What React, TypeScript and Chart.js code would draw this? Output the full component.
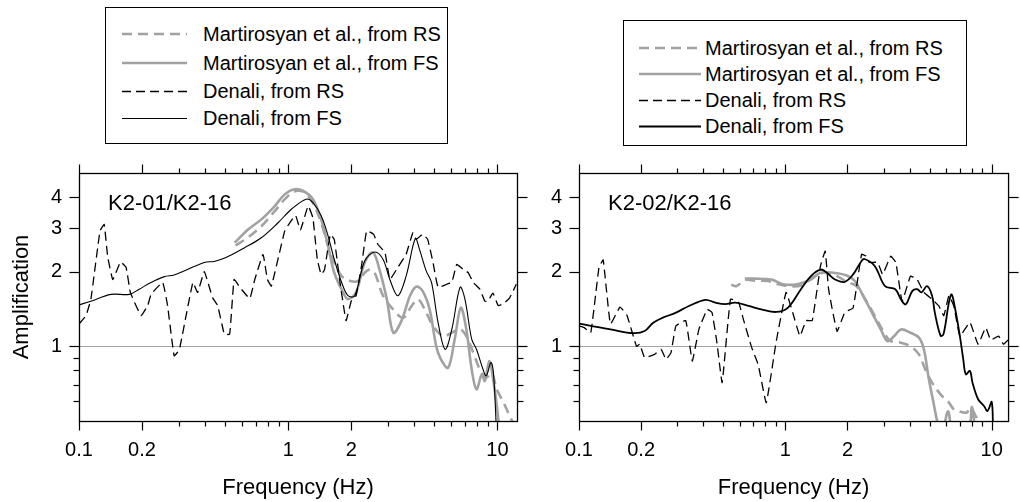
import React, { useEffect, useRef } from 'react';
import { Chart, registerables } from 'chart.js';

Chart.register(...registerables);

const FONT = "'Liberation Sans', Arial, Helvetica, sans-serif";
const GRAY = '#a2a2a2';

// ---- axis ticks / labels ----
const xTickLabels = [0.1, 0.2, 1, 2, 10];
const xMinorTicks = [0.3, 0.4, 0.5, 0.6, 0.7, 0.8, 0.9, 3, 4, 5, 6, 7, 8, 9];
const yTickLabels = [1, 2, 3, 4];
const yMinorTicks = [0.6, 0.7, 0.8, 0.9];
const xTitle = 'Frequency (Hz)';
const yTitle = 'Amplification';
const legendLabels = ['Martirosyan et al., from RS', 'Martirosyan et al., from FS', 'Denali, from RS', 'Denali, from FS'];
const panelTitles = ['K2-01/K2-16', 'K2-02/K2-16'];

// ---- K2-01/K2-16 ----
const k201MartRsFreq = [0.56, 0.643, 0.744, 0.862, 0.98, 1.09, 1.2, 1.31, 1.437, 1.55, 1.66, 1.8, 1.98, 2.16, 2.32, 2.46, 2.59, 2.84, 3.17, 3.54, 3.89, 4.17, 4.49, 4.92, 5.5, 6.05, 6.63, 7.1, 7.66, 8.24, 8.84, 9.37, 9.93, 10.7, 11.44, 12.2];
const k201MartRsAmp = [2.55, 2.75, 3.05, 3.51, 3.98, 4.23, 4.17, 3.8, 3.15, 2.54, 2.18, 1.92, 1.835, 1.835, 1.98, 2.04, 1.98, 1.6, 1.41, 1.305, 1.455, 1.547, 1.41, 1.21, 1.1, 1.135, 1.17, 1.1, 0.943, 0.808, 0.748, 0.783, 0.671, 0.593, 0.524, 0.47];

const k201MartFsFreq = [0.555, 0.643, 0.744, 0.862, 0.962, 1.07, 1.18, 1.312, 1.437, 1.55, 1.66, 1.83, 1.93, 2.11, 2.32, 2.54, 2.73, 2.96, 3.18, 3.48, 3.82, 4.09, 4.39, 4.74, 5.1, 5.37, 5.81, 6.25, 6.68, 7.1, 7.53, 7.94, 8.42, 8.7, 9.14, 9.54, 9.93, 10.2];
const k201MartFsAmp = [2.62, 2.96, 3.25, 3.68, 4.1, 4.3, 4.23, 3.92, 3.25, 2.54, 1.98, 1.65, 1.55, 1.65, 2.18, 2.39, 2.04, 1.55, 1.135, 1.27, 1.6, 1.74, 1.67, 1.41, 1.0, 0.886, 0.82, 1.07, 1.43, 1.17, 0.808, 0.671, 0.771, 0.725, 0.873, 0.736, 0.575, 0.47];

const k201DenaliRsFreq = [0.1, 0.108, 0.114, 0.126, 0.132, 0.137, 0.145, 0.158, 0.168, 0.176, 0.198, 0.213, 0.221, 0.251, 0.265, 0.285, 0.302, 0.35, 0.369, 0.397, 0.435, 0.46, 0.495, 0.525, 0.551, 0.587, 0.655, 0.692, 0.758, 0.795, 0.831, 0.962, 1.017, 1.084, 1.144, 1.245, 1.312, 1.377, 1.437, 1.491, 1.59, 1.66, 1.76, 1.89, 2.0, 2.11, 2.24, 2.37, 2.56, 2.68, 2.9, 3.06, 3.34, 3.66, 3.94, 4.09, 4.39, 4.64, 4.92, 5.2, 5.72, 6.05, 6.39, 6.87, 7.26, 7.66, 8.24, 8.7, 9.0, 9.51, 10.08, 10.6, 11.44, 12.3];
const k201DenaliRsAmp = [1.23, 1.33, 1.55, 2.92, 3.1, 2.31, 1.86, 2.19, 2.08, 1.65, 1.33, 1.46, 1.62, 1.81, 1.46, 0.915, 0.973, 1.81, 1.65, 2.0, 1.57, 1.46, 1.12, 1.12, 1.86, 1.73, 1.56, 1.86, 2.35, 1.86, 1.75, 2.92, 3.15, 3.37, 2.95, 3.68, 3.3, 2.24, 1.95, 2.04, 2.83, 2.7, 1.86, 1.27, 1.52, 1.6, 2.11, 2.92, 2.83, 2.58, 2.39, 1.86, 2.08, 2.35, 2.87, 2.7, 2.83, 2.7, 2.18, 1.73, 1.78, 1.81, 2.14, 2.04, 1.98, 1.81, 1.7, 1.52, 1.52, 1.64, 1.46, 1.48, 1.57, 1.78];

const k201DenaliFsFreq = [0.1, 0.114, 0.142, 0.174, 0.194, 0.221, 0.256, 0.285, 0.33, 0.397, 0.443, 0.504, 0.619, 0.744, 0.894, 1.035, 1.22, 1.312, 1.437, 1.55, 1.66, 1.8, 1.93, 2.08, 2.32, 2.59, 2.84, 3.06, 3.34, 3.66, 4.05, 4.24, 4.57, 4.84, 5.2, 5.62, 6.05, 6.63, 6.99, 7.53, 7.94, 8.53, 8.84, 9.31, 9.57, 9.9];
const k201DenaliFsAmp = [1.47, 1.52, 1.62, 1.62, 1.7, 1.81, 1.91, 1.94, 2.04, 2.18, 2.2, 2.28, 2.5, 2.74, 3.15, 3.57, 3.92, 3.8, 3.36, 2.79, 2.24, 1.81, 1.6, 1.6, 2.21, 2.4, 2.24, 1.86, 1.6, 1.92, 2.72, 2.46, 2.01, 1.81, 1.25, 0.973, 1.17, 1.73, 1.55, 1.07, 0.973, 0.808, 0.76, 0.86, 0.78, 0.45];

// ---- K2-02/K2-16 ----
const k202MartRsFreq = [0.547, 0.58, 0.636, 0.71, 0.82, 0.92, 1.027, 1.19, 1.35, 1.53, 1.78, 1.98, 2.21, 2.47, 2.71, 3.04, 3.24, 3.63, 4.04, 4.44, 4.76, 5.14, 5.65, 6.2, 6.55, 6.87, 7.53, 7.93, 8.4, 9.0];
const k202MartRsAmp = [1.77, 1.75, 1.85, 1.84, 1.835, 1.78, 1.75, 1.76, 1.89, 1.98, 1.92, 1.82, 1.75, 1.52, 1.33, 1.118, 1.05, 1.035, 1.0, 0.928, 0.808, 0.714, 0.64, 0.593, 0.557, 0.549, 0.54, 0.566, 0.52, 0.48];

const k202MartFsFreq = [0.636, 0.711, 0.854, 0.975, 1.144, 1.33, 1.48, 1.71, 1.98, 2.17, 2.38, 2.65, 2.9, 3.12, 3.37, 3.63, 4.04, 4.44, 4.69, 4.96, 5.26, 5.44, 5.7, 5.85, 6.15, 6.5, 7.7, 8.0, 8.3];
const k202MartFsAmp = [1.875, 1.875, 1.86, 1.78, 1.78, 1.86, 1.98, 1.98, 1.93, 1.835, 1.6, 1.35, 1.17, 1.05, 1.1, 1.17, 1.135, 1.084, 0.973, 0.736, 0.575, 0.5, 0.45, 0.47, 0.547, 0.46, 0.46, 0.57, 0.46];

const k202DenaliRsFreq = [0.1, 0.106, 0.114, 0.125, 0.131, 0.142, 0.158, 0.171, 0.19, 0.197, 0.208, 0.232, 0.25, 0.264, 0.279, 0.295, 0.329, 0.354, 0.381, 0.418, 0.441, 0.466, 0.494, 0.542, 0.594, 0.626, 0.687, 0.738, 0.808, 0.901, 1.008, 1.085, 1.177, 1.26, 1.35, 1.48, 1.56, 1.62, 1.78, 1.94, 2.13, 2.34, 2.47, 2.55, 2.8, 2.96, 3.24, 3.43, 3.68, 4.04, 4.35, 4.69, 5.14, 5.54, 5.86, 6.2, 6.55, 7.01, 7.84, 8.59, 9.36, 9.88, 10.8, 11.4, 12.0];
const k202DenaliRsAmp = [1.21, 1.19, 1.135, 2.08, 2.23, 1.23, 1.44, 1.33, 1.0, 1.02, 0.9, 0.928, 0.973, 0.886, 0.943, 1.21, 1.27, 0.873, 1.17, 1.41, 1.37, 1.035, 0.714, 1.55, 1.5, 1.285, 0.988, 0.846, 0.593, 1.035, 1.65, 1.37, 1.1, 1.27, 1.27, 2.11, 2.42, 1.7, 1.15, 1.37, 1.43, 2.35, 2.31, 2.18, 2.18, 1.95, 2.31, 2.18, 1.52, 1.92, 1.86, 1.65, 1.55, 1.455, 1.33, 1.6, 1.455, 1.1, 1.25, 1.02, 1.19, 1.06, 1.1, 1.02, 1.06];

const k202DenaliFsFreq = [0.1, 0.114, 0.142, 0.184, 0.208, 0.229, 0.255, 0.295, 0.341, 0.41, 0.458, 0.511, 0.572, 0.663, 0.765, 0.901, 1.027, 1.19, 1.33, 1.48, 1.59, 1.74, 1.94, 2.13, 2.34, 2.42, 2.71, 3.04, 3.41, 3.63, 3.83, 4.12, 4.35, 4.57, 4.86, 5.14, 5.3, 5.65, 5.84, 6.2, 6.39, 6.61, 7.01, 7.28, 7.49, 7.84, 8.07, 8.59, 9.17, 9.54, 10.0, 10.15];
const k202DenaliFsAmp = [1.235, 1.21, 1.17, 1.13, 1.153, 1.246, 1.305, 1.367, 1.455, 1.54, 1.5, 1.48, 1.5, 1.455, 1.41, 1.376, 1.43, 1.7, 1.92, 2.04, 1.98, 1.86, 1.82, 1.95, 2.21, 2.25, 2.11, 1.75, 1.7, 1.547, 1.477, 1.67, 1.7, 1.65, 1.75, 1.6, 1.367, 1.104, 1.12, 1.5, 1.62, 1.455, 1.1, 0.886, 0.771, 0.796, 0.714, 0.612, 0.575, 0.549, 0.597, 0.45];

const xMaxes = [12.4, 12.0];

type Series = { f: number[]; a: number[] };

const panels: { mrs: Series; mfs: Series; drs: Series; dfs: Series; fsWidth: number }[] = [
  {
    mrs: { f: k201MartRsFreq, a: k201MartRsAmp },
    mfs: { f: k201MartFsFreq, a: k201MartFsAmp },
    drs: { f: k201DenaliRsFreq, a: k201DenaliRsAmp },
    dfs: { f: k201DenaliFsFreq, a: k201DenaliFsAmp },
    fsWidth: 1.1,
  },
  {
    mrs: { f: k202MartRsFreq, a: k202MartRsAmp },
    mfs: { f: k202MartFsFreq, a: k202MartFsAmp },
    drs: { f: k202DenaliRsFreq, a: k202DenaliRsAmp },
    dfs: { f: k202DenaliFsFreq, a: k202DenaliFsAmp },
    fsWidth: 1.8,
  },
];

const pts = (s: Series) => s.f.map((v, i) => ({ x: v, y: s.a[i] }));

const framePlugin = {
  id: 'frameTicks',
  afterDraw(chart: any) {
    const { ctx, chartArea } = chart;
    const { left, right, top, bottom } = chartArea;
    const xs = chart.scales.x;
    const ys = chart.scales.y;
    ctx.save();
    ctx.strokeStyle = '#000';
    ctx.lineWidth = 1.3;
    ctx.setLineDash([]);
    ctx.strokeRect(left + 0.5, top + 0.5, right - left, bottom - top);
    const line = (x1: number, y1: number, x2: number, y2: number) => {
      ctx.beginPath();
      ctx.moveTo(x1, y1);
      ctx.lineTo(x2, y2);
      ctx.stroke();
    };
    ctx.lineWidth = 1.2;
    const xt = (v: number, len: number) => {
      const p = Math.round(xs.getPixelForValue(v)) + 0.5;
      line(p, bottom + 0.5, p, bottom + 0.5 + len);
      line(p, top + 0.5, p, top + 0.5 - len);
    };
    const yt = (v: number, len: number) => {
      const p = Math.round(ys.getPixelForValue(v)) + 0.5;
      line(left + 0.5, p, left + 0.5 - len, p);
      line(right + 0.5, p, right + 0.5 + len, p);
    };
    xTickLabels.forEach((v) => xt(v, 9));
    xMinorTicks.forEach((v) => xt(v, 5));
    yTickLabels.forEach((v) => yt(v, 10));
    yMinorTicks.forEach((v) => yt(v, 6));
    ctx.restore();
  },
};

function makeConfig(idx: number) {
  const p = panels[idx];
  const padLeft = idx === 0 ? 0 : 500;
  const padRight = idx === 0 ? 503 : 4;
  return {
    type: 'line',
    data: {
      datasets: [
        { label: legendLabels[2], data: pts(p.drs), borderColor: '#000', borderWidth: 1.3, borderDash: [9, 5], tension: 0.1 },
        { label: legendLabels[3], data: pts(p.dfs), borderColor: '#000', borderWidth: p.fsWidth, tension: 0.35 },
        { label: legendLabels[0], data: pts(p.mrs), borderColor: GRAY, borderWidth: 2.6, borderDash: [10, 6], tension: 0.35 },
        { label: legendLabels[1], data: pts(p.mfs), borderColor: GRAY, borderWidth: 2.6, tension: 0.35 },
      ],
    },
    options: {
      animation: false,
      responsive: false,
      maintainAspectRatio: false,
      layout: { padding: { left: padLeft, right: padRight, top: 173, bottom: 0 } },
      plugins: { legend: { display: false }, tooltip: { enabled: false } },
      elements: { point: { radius: 0, hoverRadius: 0 }, line: { fill: false, borderCapStyle: 'butt' } },
      scales: {
        x: {
          type: 'logarithmic',
          position: 'bottom',
          min: 0.1,
          max: xMaxes[idx],
          afterBuildTicks: (s: any) => {
            s.ticks = xTickLabels.map((v) => ({ value: v }));
          },
          afterFit: (s: any) => {
            s.height = 81;
          },
          grid: { display: false, drawTicks: false },
          border: { display: false },
          ticks: {
            autoSkip: false,
            maxRotation: 0,
            minRotation: 0,
            padding: 17,
            color: '#000',
            font: { size: 20, family: FONT },
            callback: (v: any) => String(v),
          },
          title: { display: true, text: xTitle, color: '#000', font: { size: 22, family: FONT }, padding: { top: 0, bottom: 1 } },
        },
        y: {
          type: 'logarithmic',
          position: 'left',
          min: 0.5,
          max: 5,
          afterBuildTicks: (s: any) => {
            s.ticks = yTickLabels.map((v) => ({ value: v }));
          },
          afterFit: (s: any) => {
            s.width = 79;
          },
          grid: {
            display: true,
            drawOnChartArea: true,
            drawTicks: false,
            lineWidth: 1,
            color: (c: any) => (c.tick && c.tick.value === 1 ? GRAY : 'rgba(0,0,0,0)'),
          },
          border: { display: false },
          ticks: {
            autoSkip: false,
            padding: 17,
            color: '#000',
            font: { size: 20, family: FONT },
            callback: (v: any) => String(v),
          },
          title: { display: idx === 0, text: yTitle, color: '#000', font: { size: 22, family: FONT }, padding: { top: 8.5, bottom: 0 } },
        },
      },
    },
    plugins: [framePlugin],
  };
}

function PanelChart({ idx }: { idx: number }) {
  const ref = useRef<HTMLCanvasElement | null>(null);
  useEffect(() => {
    if (!ref.current) return;
    const chart = new Chart(ref.current, makeConfig(idx) as any);
    return () => chart.destroy();
  }, [idx]);
  return (
    <canvas
      ref={ref}
      width={1020}
      height={502}
      style={{ position: 'absolute', left: 0, top: 0, width: 1020, height: 502 }}
    />
  );
}

const legendStyles = [
  { color: GRAY, width: 2.6, dash: '10 6' },
  { color: GRAY, width: 2.6, dash: '' },
  { color: '#000', width: 1.3, dash: '9 5' },
  { color: '#000', width: 1.1, dash: '' },
];

function LegendBox({ box, rows, sampleX, sampleW, textX, fsWidth }: any) {
  return (
    <div
      style={{
        position: 'absolute',
        left: box[0],
        top: box[1],
        width: box[2],
        height: box[3],
        border: '1px solid #000',
        boxSizing: 'border-box',
        background: '#fff',
      }}
    >
      {legendLabels.map((lab, i) => {
        const st = legendStyles[i];
        const w = i === 3 ? fsWidth : st.width;
        const ly = w < 2 ? 5.5 : 5;
        return (
          <React.Fragment key={lab}>
            <svg
              width={sampleW}
              height={10}
              style={{ position: 'absolute', left: sampleX, top: rows[i] - 5 }}
            >
              <line x1={0} y1={ly} x2={sampleW} y2={ly} stroke={st.color} strokeWidth={w} strokeDasharray={st.dash || undefined} />
            </svg>
            <div
              style={{
                position: 'absolute',
                left: textX,
                top: rows[i] - 12,
                fontFamily: FONT,
                fontSize: 20,
                lineHeight: '24px',
                whiteSpace: 'nowrap',
                color: '#000',
              }}
            >
              {lab}
            </div>
          </React.Fragment>
        );
      })}
    </div>
  );
}

export default function App() {
  return (
    <div style={{ position: 'absolute', left: 0, top: 0, width: 1020, height: 502, background: '#fff', overflow: 'hidden' }}>
      <PanelChart idx={0} />
      <PanelChart idx={1} />
      <LegendBox box={[105, 7, 343, 137]} rows={[26, 55, 83, 110]} sampleX={16} sampleW={65} textX={97} fsWidth={1.1} />
      <LegendBox box={[623, 20, 344, 126]} rows={[27, 53, 79, 105]} sampleX={15} sampleW={62} textX={81} fsWidth={1.8} />
      {panelTitles.map((t, i) => (
        <div
          key={t}
          style={{
            position: 'absolute',
            left: i === 0 ? 108 : 608,
            top: 190,
            fontFamily: FONT,
            fontSize: 22,
            lineHeight: '26px',
            whiteSpace: 'nowrap',
            color: '#000',
          }}
        >
          {t}
        </div>
      ))}
    </div>
  );
}
